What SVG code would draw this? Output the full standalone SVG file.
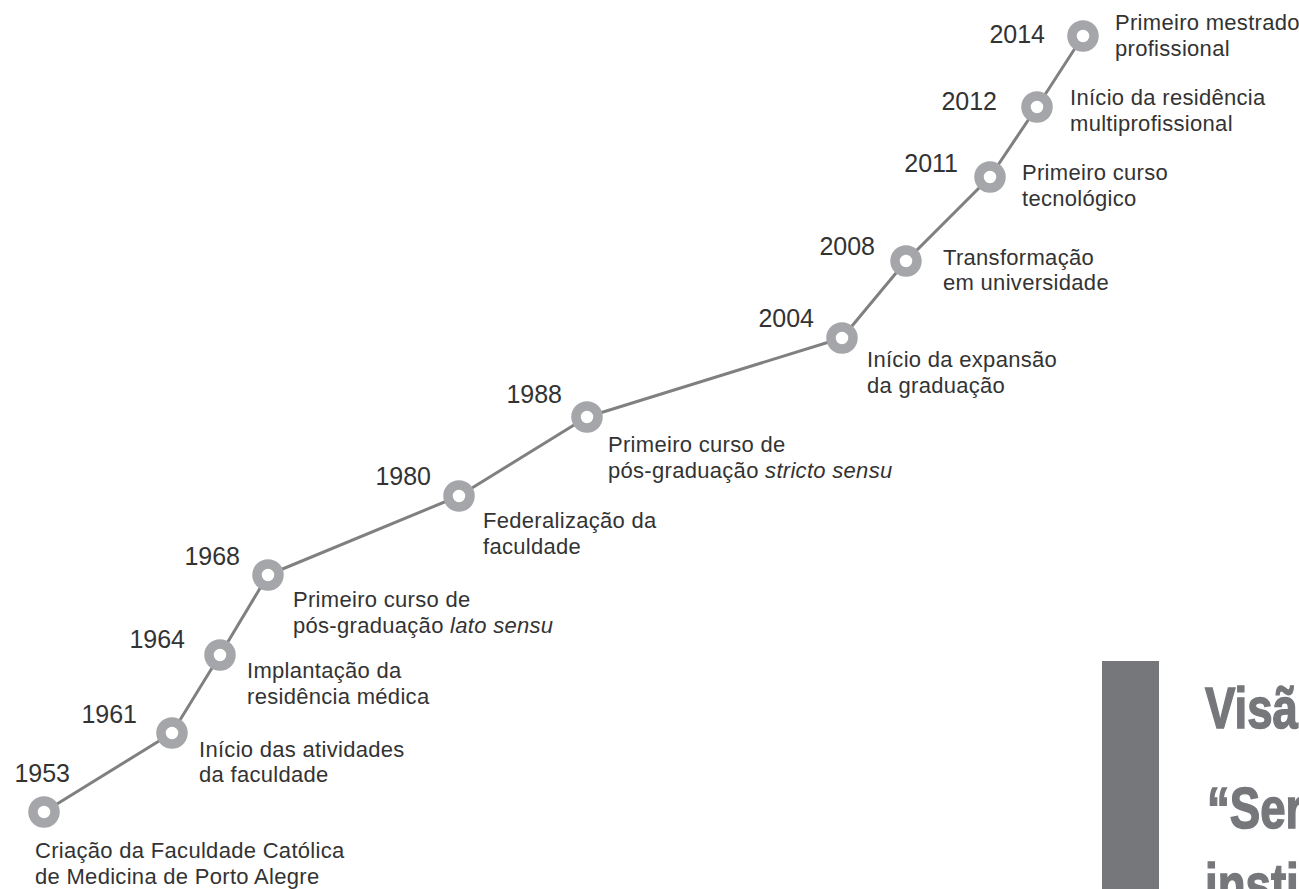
<svg xmlns="http://www.w3.org/2000/svg" width="1299" height="889" viewBox="0 0 1299 889">
<style>
.yr{font-family:"Liberation Sans",Arial,sans-serif;font-size:25px;fill:#333;text-anchor:end}
.lb{font-family:"Liberation Sans",Arial,sans-serif;font-size:22px;fill:#333;letter-spacing:0.3px}
.ring{fill:#fff;stroke:#a5a6a9;stroke-width:9.5}
.big{font-family:"Liberation Sans",Arial,sans-serif;font-weight:bold;font-size:57px;fill:#76777b;stroke:#76777b;stroke-width:1.5}
</style>
<rect width="1299" height="889" fill="#fff"/>
<g id="connectors">
<polyline points="44,812 172,733 220,655 268,575 459,496 587,417 842,338 906,261 990,177 1037,107 1083,36" fill="none" stroke="#808080" stroke-width="3" stroke-linejoin="round"/>
</g>
<g id="n1953"><circle class="ring" cx="44" cy="812" r="11"/><text class="yr" x="70" y="782">1953</text>
<text class="lb" x="35" y="858">Criação da Faculdade Católica</text><text class="lb" x="35" y="884">de Medicina de Porto Alegre</text></g>
<g id="n1961"><circle class="ring" cx="172" cy="733" r="11"/><text class="yr" x="137" y="723">1961</text>
<text class="lb" x="199" y="757">Início das atividades</text><text class="lb" x="199" y="782">da faculdade</text></g>
<g id="n1964"><circle class="ring" cx="220" cy="655" r="11"/><text class="yr" x="185" y="648">1964</text>
<text class="lb" x="247" y="678">Implantação da</text><text class="lb" x="247" y="704">residência médica</text></g>
<g id="n1968"><circle class="ring" cx="268" cy="575" r="11"/><text class="yr" x="240" y="565">1968</text>
<text class="lb" x="293" y="607">Primeiro curso de</text><text class="lb" x="293" y="633">pós-graduação <tspan font-style="italic">lato sensu</tspan></text></g>
<g id="n1980"><circle class="ring" cx="459" cy="496" r="11"/><text class="yr" x="431" y="485">1980</text>
<text class="lb" x="483" y="528">Federalização da</text><text class="lb" x="483" y="554">faculdade</text></g>
<g id="n1988"><circle class="ring" cx="587" cy="417" r="11"/><text class="yr" x="562" y="403">1988</text>
<text class="lb" x="608" y="452">Primeiro curso de</text><text class="lb" x="608" y="478">pós-graduação <tspan font-style="italic">stricto sensu</tspan></text></g>
<g id="n2004"><circle class="ring" cx="842" cy="338" r="11"/><text class="yr" x="814" y="327">2004</text>
<text class="lb" x="867" y="367">Início da expansão</text><text class="lb" x="867" y="393">da graduação</text></g>
<g id="n2008"><circle class="ring" cx="906" cy="261" r="11"/><text class="yr" x="875" y="255">2008</text>
<text class="lb" x="943" y="265">Transformação</text><text class="lb" x="943" y="290">em universidade</text></g>
<g id="n2011"><circle class="ring" cx="990" cy="177" r="11"/><text class="yr" x="958" y="172">2011</text>
<text class="lb" x="1022" y="180">Primeiro curso</text><text class="lb" x="1022" y="206">tecnológico</text></g>
<g id="n2012"><circle class="ring" cx="1037" cy="107" r="11"/><text class="yr" x="997" y="110">2012</text>
<text class="lb" x="1070" y="105">Início da residência</text><text class="lb" x="1070" y="131">multiprofissional</text></g>
<g id="n2014"><circle class="ring" cx="1083" cy="36" r="11"/><text class="yr" x="1045" y="43">2014</text>
<text class="lb" x="1115" y="30">Primeiro mestrado</text><text class="lb" x="1115" y="56">profissional</text></g>
<g id="panel">
<rect x="1102" y="661" width="57" height="228" fill="#76777b"/>
<text class="big" transform="translate(1205,728) scale(0.8,1)">Visã</text>
<text class="big" transform="translate(1207,828) scale(0.8,1)">“Ser</text>
<text class="big" transform="translate(1205,904) scale(0.8,1)">insti</text>
</g>
</svg>
